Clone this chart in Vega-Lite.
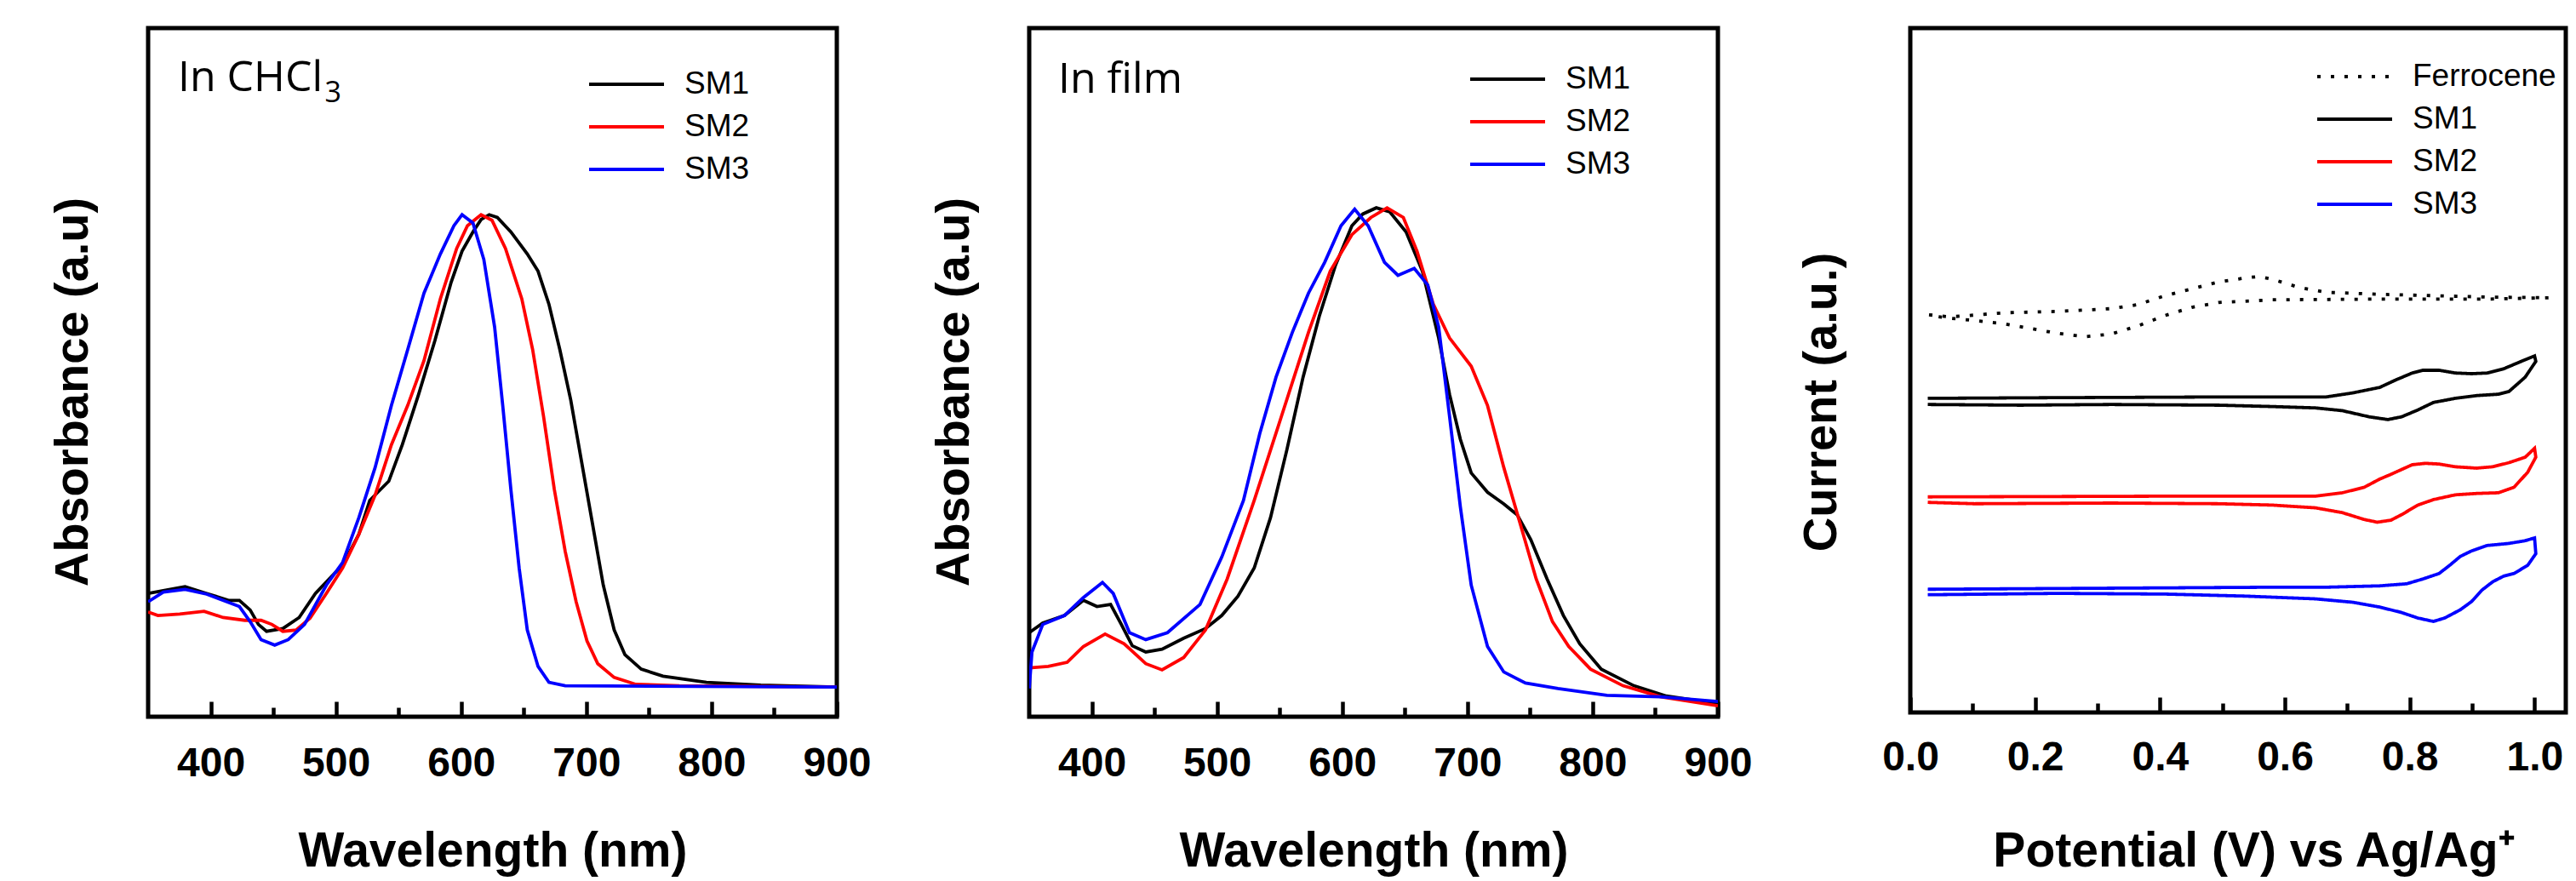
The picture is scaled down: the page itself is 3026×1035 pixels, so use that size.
{
  "$schema": "https://vega.github.io/schema/vega-lite/v6.json",
  "background": "white",
  "padding": {"left": 54, "top": 30, "right": 5, "bottom": 5},
  "bounds": "flush",
  "spacing": 226,
  "resolve": {"scale": {"color": "independent", "strokeDash": "independent", "x": "independent", "y": "independent"}, "legend": {"color": "independent", "strokeDash": "independent"}},
  "config": {
    "font": "Liberation Sans",
    "view": {"stroke": "black", "strokeWidth": 5},
    "axisX": {"domain": false, "grid": false, "tickSize": 0, "tickWidth": 4.5, "tickColor": "black", "labelFont": "Liberation Sans", "labelFontSize": 48, "labelFontWeight": "bold", "labelColor": "black", "labelPadding": 31, "labelFlush": false, "labelOverlap": false, "titleFont": "Liberation Sans", "titleFontSize": 57, "titleFontWeight": "bold", "titleColor": "black", "titlePadding": 51},
    "axisY": {"domain": false, "grid": false, "ticks": false, "labels": false, "titleFont": "Liberation Sans", "titleFontSize": 56, "titleFontWeight": "bold", "titleColor": "black", "titlePadding": 60},
    "legend": {"orient": "none", "padding": 0, "offset": 0, "labelFont": "Liberation Sans", "labelFontSize": 37, "labelColor": "black", "labelLimit": 400, "symbolType": "stroke", "symbolSize": 7744, "symbolStrokeWidth": 4, "clipHeight": 50, "rowPadding": 0, "labelOffset": 22}
  },
  "datasets": {
    "uv1": [
      {"s":"SM1","x":350,"y":0.179},{"s":"SM1","x":362.1,"y":0.183},{"s":"SM1","x":379.5,"y":0.189},{"s":"SM1","x":396.8,"y":0.179},{"s":"SM1","x":414.2,"y":0.169},{"s":"SM1","x":422.9,"y":0.169},{"s":"SM1","x":431.5,"y":0.155},{"s":"SM1","x":438.1,"y":0.134},{"s":"SM1","x":444.6,"y":0.124},{"s":"SM1","x":457.6,"y":0.128},{"s":"SM1","x":470.6,"y":0.144},{"s":"SM1","x":483.6,"y":0.179},{"s":"SM1","x":496.6,"y":0.204},{"s":"SM1","x":505.3,"y":0.220},{"s":"SM1","x":518.3,"y":0.265},{"s":"SM1","x":527.0,"y":0.314},{"s":"SM1","x":535.6,"y":0.330},{"s":"SM1","x":542.2,"y":0.342},{"s":"SM1","x":553.0,"y":0.395},{"s":"SM1","x":566.0,"y":0.468},{"s":"SM1","x":579.0,"y":0.546},{"s":"SM1","x":592.0,"y":0.631},{"s":"SM1","x":600.7,"y":0.676},{"s":"SM1","x":609.4,"y":0.704},{"s":"SM1","x":615.9,"y":0.722},{"s":"SM1","x":622.4,"y":0.729},{"s":"SM1","x":628.9,"y":0.725},{"s":"SM1","x":639.7,"y":0.704},{"s":"SM1","x":652.8,"y":0.672},{"s":"SM1","x":661.4,"y":0.647},{"s":"SM1","x":670.1,"y":0.599},{"s":"SM1","x":678.8,"y":0.533},{"s":"SM1","x":687.5,"y":0.460},{"s":"SM1","x":696.1,"y":0.371},{"s":"SM1","x":704.8,"y":0.281},{"s":"SM1","x":713.5,"y":0.191},{"s":"SM1","x":722.2,"y":0.126},{"s":"SM1","x":730.8,"y":0.090},{"s":"SM1","x":743.8,"y":0.069},{"s":"SM1","x":761.2,"y":0.059},{"s":"SM1","x":795.9,"y":0.050},{"s":"SM1","x":839.3,"y":0.046},{"s":"SM1","x":900,"y":0.043},
      {"s":"SM2","x":350,"y":0.152},{"s":"SM2","x":357.8,"y":0.147},{"s":"SM2","x":375.2,"y":0.149},{"s":"SM2","x":394.7,"y":0.153},{"s":"SM2","x":409.9,"y":0.144},{"s":"SM2","x":427.2,"y":0.140},{"s":"SM2","x":440.2,"y":0.140},{"s":"SM2","x":448.9,"y":0.134},{"s":"SM2","x":457.6,"y":0.124},{"s":"SM2","x":468.4,"y":0.126},{"s":"SM2","x":479.3,"y":0.143},{"s":"SM2","x":492.3,"y":0.179},{"s":"SM2","x":505.3,"y":0.216},{"s":"SM2","x":518.3,"y":0.265},{"s":"SM2","x":531.3,"y":0.322},{"s":"SM2","x":544.3,"y":0.395},{"s":"SM2","x":557.3,"y":0.452},{"s":"SM2","x":570.3,"y":0.517},{"s":"SM2","x":583.4,"y":0.607},{"s":"SM2","x":596.4,"y":0.680},{"s":"SM2","x":605.0,"y":0.713},{"s":"SM2","x":615.9,"y":0.729},{"s":"SM2","x":624.6,"y":0.721},{"s":"SM2","x":635.4,"y":0.680},{"s":"SM2","x":648.4,"y":0.607},{"s":"SM2","x":657.1,"y":0.533},{"s":"SM2","x":665.8,"y":0.436},{"s":"SM2","x":674.4,"y":0.330},{"s":"SM2","x":683.1,"y":0.240},{"s":"SM2","x":691.8,"y":0.167},{"s":"SM2","x":700.5,"y":0.110},{"s":"SM2","x":709.1,"y":0.077},{"s":"SM2","x":722.2,"y":0.057},{"s":"SM2","x":739.5,"y":0.047},{"s":"SM2","x":774.2,"y":0.045},{"s":"SM2","x":900,"y":0.043},
      {"s":"SM3","x":350,"y":0.167},{"s":"SM3","x":362.1,"y":0.181},{"s":"SM3","x":379.5,"y":0.185},{"s":"SM3","x":396.8,"y":0.178},{"s":"SM3","x":422.9,"y":0.160},{"s":"SM3","x":431.5,"y":0.138},{"s":"SM3","x":440.2,"y":0.112},{"s":"SM3","x":451.1,"y":0.104},{"s":"SM3","x":461.9,"y":0.112},{"s":"SM3","x":474.9,"y":0.134},{"s":"SM3","x":492.3,"y":0.191},{"s":"SM3","x":505.3,"y":0.224},{"s":"SM3","x":518.3,"y":0.289},{"s":"SM3","x":531.3,"y":0.362},{"s":"SM3","x":544.3,"y":0.452},{"s":"SM3","x":557.3,"y":0.533},{"s":"SM3","x":570.3,"y":0.615},{"s":"SM3","x":583.4,"y":0.672},{"s":"SM3","x":594.2,"y":0.713},{"s":"SM3","x":600.7,"y":0.729},{"s":"SM3","x":609.4,"y":0.717},{"s":"SM3","x":618.1,"y":0.664},{"s":"SM3","x":626.7,"y":0.566},{"s":"SM3","x":633.2,"y":0.452},{"s":"SM3","x":639.7,"y":0.330},{"s":"SM3","x":646.3,"y":0.216},{"s":"SM3","x":652.8,"y":0.126},{"s":"SM3","x":661.4,"y":0.073},{"s":"SM3","x":670.1,"y":0.050},{"s":"SM3","x":683.1,"y":0.045},{"s":"SM3","x":900,"y":0.043}
    ],
    "uv2": [
      {"s":"SM1","x":350,"y":0.122},{"s":"SM1","x":360.8,"y":0.136},{"s":"SM1","x":378.2,"y":0.147},{"s":"SM1","x":393.3,"y":0.169},{"s":"SM1","x":404.1,"y":0.160},{"s":"SM1","x":415.0,"y":0.163},{"s":"SM1","x":423.6,"y":0.134},{"s":"SM1","x":432.3,"y":0.103},{"s":"SM1","x":443.1,"y":0.094},{"s":"SM1","x":456.1,"y":0.098},{"s":"SM1","x":473.4,"y":0.114},{"s":"SM1","x":490.8,"y":0.128},{"s":"SM1","x":503.8,"y":0.147},{"s":"SM1","x":516.7,"y":0.175},{"s":"SM1","x":529.7,"y":0.216},{"s":"SM1","x":542.7,"y":0.289},{"s":"SM1","x":555.7,"y":0.387},{"s":"SM1","x":568.7,"y":0.493},{"s":"SM1","x":581.7,"y":0.582},{"s":"SM1","x":594.7,"y":0.656},{"s":"SM1","x":607.7,"y":0.713},{"s":"SM1","x":616.4,"y":0.730},{"s":"SM1","x":627.2,"y":0.739},{"s":"SM1","x":638.0,"y":0.733},{"s":"SM1","x":651.0,"y":0.704},{"s":"SM1","x":664.0,"y":0.647},{"s":"SM1","x":677.0,"y":0.550},{"s":"SM1","x":685.7,"y":0.468},{"s":"SM1","x":694.3,"y":0.403},{"s":"SM1","x":703.0,"y":0.354},{"s":"SM1","x":716.0,"y":0.326},{"s":"SM1","x":729.0,"y":0.309},{"s":"SM1","x":739.8,"y":0.293},{"s":"SM1","x":750.6,"y":0.257},{"s":"SM1","x":763.6,"y":0.200},{"s":"SM1","x":776.6,"y":0.147},{"s":"SM1","x":789.6,"y":0.106},{"s":"SM1","x":806.9,"y":0.069},{"s":"SM1","x":832.9,"y":0.045},{"s":"SM1","x":858.9,"y":0.030},{"s":"SM1","x":900,"y":0.019},
      {"s":"SM2","x":350,"y":0.071},{"s":"SM2","x":365.2,"y":0.073},{"s":"SM2","x":380.3,"y":0.079},{"s":"SM2","x":393.3,"y":0.102},{"s":"SM2","x":410.6,"y":0.120},{"s":"SM2","x":425.8,"y":0.106},{"s":"SM2","x":443.1,"y":0.077},{"s":"SM2","x":456.1,"y":0.068},{"s":"SM2","x":473.4,"y":0.086},{"s":"SM2","x":490.8,"y":0.126},{"s":"SM2","x":508.1,"y":0.200},{"s":"SM2","x":529.7,"y":0.314},{"s":"SM2","x":551.4,"y":0.436},{"s":"SM2","x":573.0,"y":0.558},{"s":"SM2","x":590.4,"y":0.647},{"s":"SM2","x":607.7,"y":0.700},{"s":"SM2","x":622.9,"y":0.725},{"s":"SM2","x":635.8,"y":0.739},{"s":"SM2","x":648.8,"y":0.725},{"s":"SM2","x":659.7,"y":0.676},{"s":"SM2","x":672.7,"y":0.599},{"s":"SM2","x":685.7,"y":0.550},{"s":"SM2","x":703.0,"y":0.509},{"s":"SM2","x":716.0,"y":0.452},{"s":"SM2","x":729.0,"y":0.362},{"s":"SM2","x":742.0,"y":0.281},{"s":"SM2","x":754.9,"y":0.200},{"s":"SM2","x":767.9,"y":0.138},{"s":"SM2","x":780.9,"y":0.102},{"s":"SM2","x":798.3,"y":0.069},{"s":"SM2","x":824.2,"y":0.045},{"s":"SM2","x":854.5,"y":0.029},{"s":"SM2","x":900,"y":0.016},
      {"s":"SM3","x":350,"y":0.041},{"s":"SM3","x":352.2,"y":0.094},{"s":"SM3","x":360.8,"y":0.134},{"s":"SM3","x":378.2,"y":0.147},{"s":"SM3","x":393.3,"y":0.173},{"s":"SM3","x":408.5,"y":0.195},{"s":"SM3","x":417.1,"y":0.179},{"s":"SM3","x":430.1,"y":0.122},{"s":"SM3","x":443.1,"y":0.112},{"s":"SM3","x":460.4,"y":0.122},{"s":"SM3","x":486.4,"y":0.163},{"s":"SM3","x":503.8,"y":0.232},{"s":"SM3","x":521.1,"y":0.314},{"s":"SM3","x":534.1,"y":0.411},{"s":"SM3","x":547.1,"y":0.493},{"s":"SM3","x":560.1,"y":0.558},{"s":"SM3","x":573.0,"y":0.615},{"s":"SM3","x":586.0,"y":0.660},{"s":"SM3","x":599.0,"y":0.713},{"s":"SM3","x":609.9,"y":0.737},{"s":"SM3","x":620.7,"y":0.713},{"s":"SM3","x":633.7,"y":0.660},{"s":"SM3","x":644.5,"y":0.641},{"s":"SM3","x":657.5,"y":0.651},{"s":"SM3","x":668.3,"y":0.627},{"s":"SM3","x":677.0,"y":0.566},{"s":"SM3","x":685.7,"y":0.436},{"s":"SM3","x":694.3,"y":0.305},{"s":"SM3","x":703.0,"y":0.191},{"s":"SM3","x":716.0,"y":0.102},{"s":"SM3","x":729.0,"y":0.065},{"s":"SM3","x":746.3,"y":0.049},{"s":"SM3","x":772.3,"y":0.041},{"s":"SM3","x":811.3,"y":0.031},{"s":"SM3","x":854.5,"y":0.029},{"s":"SM3","x":900,"y":0.022}
    ],
    "cv": [
      {"s":"Ferrocene","i":1,"x":0.030,"y":0.581},{"s":"Ferrocene","i":2,"x":0.064,"y":0.578},{"s":"Ferrocene","i":3,"x":0.150,"y":0.584},{"s":"Ferrocene","i":4,"x":0.236,"y":0.586},{"s":"Ferrocene","i":5,"x":0.322,"y":0.590},{"s":"Ferrocene","i":6,"x":0.365,"y":0.596},{"s":"Ferrocene","i":7,"x":0.408,"y":0.609},{"s":"Ferrocene","i":8,"x":0.451,"y":0.619},{"s":"Ferrocene","i":9,"x":0.494,"y":0.629},{"s":"Ferrocene","i":10,"x":0.537,"y":0.635},{"s":"Ferrocene","i":11,"x":0.559,"y":0.637},{"s":"Ferrocene","i":12,"x":0.580,"y":0.633},{"s":"Ferrocene","i":13,"x":0.623,"y":0.621},{"s":"Ferrocene","i":14,"x":0.666,"y":0.614},{"s":"Ferrocene","i":15,"x":0.752,"y":0.611},{"s":"Ferrocene","i":16,"x":0.838,"y":0.609},{"s":"Ferrocene","i":17,"x":0.924,"y":0.607},{"s":"Ferrocene","i":18,"x":1.023,"y":0.606},{"s":"Ferrocene","i":19,"x":0.924,"y":0.604},{"s":"Ferrocene","i":20,"x":0.752,"y":0.604},{"s":"Ferrocene","i":21,"x":0.580,"y":0.603},{"s":"Ferrocene","i":22,"x":0.494,"y":0.599},{"s":"Ferrocene","i":23,"x":0.451,"y":0.592},{"s":"Ferrocene","i":24,"x":0.408,"y":0.580},{"s":"Ferrocene","i":25,"x":0.365,"y":0.565},{"s":"Ferrocene","i":26,"x":0.322,"y":0.553},{"s":"Ferrocene","i":27,"x":0.279,"y":0.549},{"s":"Ferrocene","i":28,"x":0.236,"y":0.554},{"s":"Ferrocene","i":29,"x":0.150,"y":0.568},{"s":"Ferrocene","i":30,"x":0.099,"y":0.573},{"s":"Ferrocene","i":31,"x":0.064,"y":0.576},{"s":"Ferrocene","i":32,"x":0.030,"y":0.580},
      {"s":"SM1","i":1,"x":0.028,"y":0.459},{"s":"SM1","i":2,"x":0.236,"y":0.460},{"s":"SM1","i":3,"x":0.494,"y":0.461},{"s":"SM1","i":4,"x":0.666,"y":0.461},{"s":"SM1","i":5,"x":0.709,"y":0.467},{"s":"SM1","i":6,"x":0.752,"y":0.475},{"s":"SM1","i":7,"x":0.778,"y":0.486},{"s":"SM1","i":8,"x":0.804,"y":0.496},{"s":"SM1","i":9,"x":0.821,"y":0.500},{"s":"SM1","i":10,"x":0.847,"y":0.500},{"s":"SM1","i":11,"x":0.873,"y":0.496},{"s":"SM1","i":12,"x":0.899,"y":0.495},{"s":"SM1","i":13,"x":0.924,"y":0.496},{"s":"SM1","i":14,"x":0.950,"y":0.502},{"s":"SM1","i":15,"x":0.976,"y":0.512},{"s":"SM1","i":16,"x":1.000,"y":0.521},{"s":"SM1","i":17,"x":1.002,"y":0.513},{"s":"SM1","i":18,"x":0.985,"y":0.490},{"s":"SM1","i":19,"x":0.959,"y":0.469},{"s":"SM1","i":20,"x":0.942,"y":0.465},{"s":"SM1","i":21,"x":0.907,"y":0.463},{"s":"SM1","i":22,"x":0.873,"y":0.459},{"s":"SM1","i":23,"x":0.838,"y":0.453},{"s":"SM1","i":24,"x":0.813,"y":0.442},{"s":"SM1","i":25,"x":0.787,"y":0.432},{"s":"SM1","i":26,"x":0.765,"y":0.428},{"s":"SM1","i":27,"x":0.735,"y":0.432},{"s":"SM1","i":28,"x":0.692,"y":0.441},{"s":"SM1","i":29,"x":0.649,"y":0.445},{"s":"SM1","i":30,"x":0.580,"y":0.447},{"s":"SM1","i":31,"x":0.494,"y":0.449},{"s":"SM1","i":32,"x":0.322,"y":0.450},{"s":"SM1","i":33,"x":0.176,"y":0.449},{"s":"SM1","i":34,"x":0.028,"y":0.450},
      {"s":"SM2","i":1,"x":0.028,"y":0.315},{"s":"SM2","i":2,"x":0.400,"y":0.316},{"s":"SM2","i":3,"x":0.649,"y":0.316},{"s":"SM2","i":4,"x":0.692,"y":0.321},{"s":"SM2","i":5,"x":0.727,"y":0.329},{"s":"SM2","i":6,"x":0.752,"y":0.341},{"s":"SM2","i":7,"x":0.770,"y":0.348},{"s":"SM2","i":8,"x":0.787,"y":0.355},{"s":"SM2","i":9,"x":0.804,"y":0.362},{"s":"SM2","i":10,"x":0.825,"y":0.364},{"s":"SM2","i":11,"x":0.847,"y":0.363},{"s":"SM2","i":12,"x":0.873,"y":0.359},{"s":"SM2","i":13,"x":0.907,"y":0.357},{"s":"SM2","i":14,"x":0.933,"y":0.359},{"s":"SM2","i":15,"x":0.959,"y":0.365},{"s":"SM2","i":16,"x":0.985,"y":0.373},{"s":"SM2","i":17,"x":1.000,"y":0.386},{"s":"SM2","i":18,"x":1.002,"y":0.373},{"s":"SM2","i":19,"x":0.989,"y":0.351},{"s":"SM2","i":20,"x":0.967,"y":0.329},{"s":"SM2","i":21,"x":0.942,"y":0.321},{"s":"SM2","i":22,"x":0.907,"y":0.320},{"s":"SM2","i":23,"x":0.873,"y":0.318},{"s":"SM2","i":24,"x":0.838,"y":0.311},{"s":"SM2","i":25,"x":0.813,"y":0.303},{"s":"SM2","i":26,"x":0.787,"y":0.289},{"s":"SM2","i":27,"x":0.770,"y":0.281},{"s":"SM2","i":28,"x":0.748,"y":0.278},{"s":"SM2","i":29,"x":0.727,"y":0.282},{"s":"SM2","i":30,"x":0.692,"y":0.292},{"s":"SM2","i":31,"x":0.649,"y":0.299},{"s":"SM2","i":32,"x":0.580,"y":0.303},{"s":"SM2","i":33,"x":0.494,"y":0.305},{"s":"SM2","i":34,"x":0.322,"y":0.306},{"s":"SM2","i":35,"x":0.103,"y":0.305},{"s":"SM2","i":36,"x":0.028,"y":0.307},
      {"s":"SM3","i":1,"x":0.028,"y":0.180},{"s":"SM3","i":2,"x":0.580,"y":0.183},{"s":"SM3","i":3,"x":0.666,"y":0.183},{"s":"SM3","i":4,"x":0.752,"y":0.185},{"s":"SM3","i":5,"x":0.795,"y":0.188},{"s":"SM3","i":6,"x":0.821,"y":0.195},{"s":"SM3","i":7,"x":0.847,"y":0.203},{"s":"SM3","i":8,"x":0.864,"y":0.215},{"s":"SM3","i":9,"x":0.881,"y":0.228},{"s":"SM3","i":10,"x":0.899,"y":0.236},{"s":"SM3","i":11,"x":0.924,"y":0.244},{"s":"SM3","i":12,"x":0.959,"y":0.247},{"s":"SM3","i":13,"x":0.985,"y":0.251},{"s":"SM3","i":14,"x":1.000,"y":0.255},{"s":"SM3","i":15,"x":1.002,"y":0.232},{"s":"SM3","i":16,"x":0.989,"y":0.215},{"s":"SM3","i":17,"x":0.967,"y":0.203},{"s":"SM3","i":18,"x":0.950,"y":0.199},{"s":"SM3","i":19,"x":0.933,"y":0.191},{"s":"SM3","i":20,"x":0.916,"y":0.179},{"s":"SM3","i":21,"x":0.899,"y":0.162},{"s":"SM3","i":22,"x":0.881,"y":0.150},{"s":"SM3","i":23,"x":0.856,"y":0.138},{"s":"SM3","i":24,"x":0.838,"y":0.133},{"s":"SM3","i":25,"x":0.813,"y":0.138},{"s":"SM3","i":26,"x":0.787,"y":0.146},{"s":"SM3","i":27,"x":0.752,"y":0.154},{"s":"SM3","i":28,"x":0.709,"y":0.161},{"s":"SM3","i":29,"x":0.649,"y":0.166},{"s":"SM3","i":30,"x":0.537,"y":0.170},{"s":"SM3","i":31,"x":0.408,"y":0.173},{"s":"SM3","i":32,"x":0.236,"y":0.174},{"s":"SM3","i":33,"x":0.028,"y":0.172}
    ]
  },
  "hconcat": [
    {
      "width": 809, "height": 809,
      "layer": [
        {
          "data": {"name": "uv1"},
          "mark": {"type": "line", "strokeWidth": 3.8, "clip": true},
          "encoding": {
            "x": {"field": "x", "type": "quantitative", "scale": {"domain": [350, 900], "nice": false, "zero": false},
              "axis": {"title": "Wavelength (nm)", "values": [400,450,500,550,600,650,700,750,800,850,900], "labelExpr": "datum.value % 100 == 0 ? datum.label : ''",
                "encoding": {"ticks": {"y2": {"condition": {"test": "datum.value % 100 == 0", "value": -18}, "value": -11}}}}},
            "y": {"field": "y", "type": "quantitative", "scale": {"domain": [0, 1], "nice": false, "zero": false}, "axis": {"title": "Absorbance (a.u)", "titleY": 427}},
            "color": {"field": "s", "type": "nominal", "scale": {"domain": ["SM1", "SM2", "SM3"], "range": ["#000000", "#ff0000", "#0000ff"]}, "legend": {"title": null, "legendX": 516, "legendY": 41}}
          }
        },
        {
          "data": {"values": [{"t": "In CHCl"}]},
          "mark": {"type": "text", "font": "Open Sans", "fontSize": 50, "align": "left", "baseline": "alphabetic", "color": "black"},
          "encoding": {"text": {"field": "t"}, "x": {"datum": 373.8}, "y": {"datum": 0.9085}}
        },
        {
          "data": {"values": [{"t": "3"}]},
          "mark": {"type": "text", "font": "Open Sans", "fontSize": 34, "align": "left", "baseline": "alphabetic", "color": "black"},
          "encoding": {"text": {"field": "t"}, "x": {"datum": 491}, "y": {"datum": 0.8925}}
        }
      ]
    },
    {
      "width": 809, "height": 809,
      "layer": [
        {
          "data": {"name": "uv2"},
          "mark": {"type": "line", "strokeWidth": 3.8, "clip": true},
          "encoding": {
            "x": {"field": "x", "type": "quantitative", "scale": {"domain": [350, 900], "nice": false, "zero": false},
              "axis": {"title": "Wavelength (nm)", "values": [400,450,500,550,600,650,700,750,800,850,900], "labelExpr": "datum.value % 100 == 0 ? datum.label : ''",
                "encoding": {"ticks": {"y2": {"condition": {"test": "datum.value % 100 == 0", "value": -18}, "value": -11}}}}},
            "y": {"field": "y", "type": "quantitative", "scale": {"domain": [0, 1], "nice": false, "zero": false}, "axis": {"title": "Absorbance (a.u)", "titleY": 427}},
            "color": {"field": "s", "type": "nominal", "scale": {"domain": ["SM1", "SM2", "SM3"], "range": ["#000000", "#ff0000", "#0000ff"]}, "legend": {"title": null, "legendX": 516, "legendY": 35}}
          }
        },
        {
          "data": {"values": [{"t": "In film"}]},
          "mark": {"type": "text", "font": "Open Sans", "fontSize": 50, "align": "left", "baseline": "alphabetic", "color": "black"},
          "encoding": {"text": {"field": "t"}, "x": {"datum": 373.1}, "y": {"datum": 0.906}}
        }
      ]
    },
    {
      "width": 770, "height": 804,
      "data": {"name": "cv"},
      "mark": {"type": "line", "strokeWidth": 3.8, "clip": true},
      "encoding": {
        "x": {"field": "x", "type": "quantitative", "scale": {"domain": [0, 1.05], "nice": false, "zero": false},
          "axis": {"title": "Potential (V) vs Ag/Ag⁺", "titleX": 403, "labelPadding": 29, "titlePadding": 58, "values": [0,0.1,0.2,0.3,0.4,0.5,0.6,0.7,0.8,0.9,1.0], "labelExpr": "round(datum.value*10) % 2 == 0 ? format(datum.value, '.1f') : ''",
            "encoding": {"ticks": {"y2": {"condition": {"test": "round(datum.value*10) % 2 == 0", "value": -18}, "value": -11}}}}},
        "y": {"field": "y", "type": "quantitative", "scale": {"domain": [0, 1], "nice": false, "zero": false}, "axis": {"title": "Current (a.u.)", "titleY": 439, "titlePadding": 76}},
        "order": {"field": "i", "type": "quantitative"},
        "color": {"field": "s", "type": "nominal", "scale": {"domain": ["Ferrocene", "SM1", "SM2", "SM3"], "range": ["#000000", "#000000", "#ff0000", "#0000ff"]}, "legend": {"title": null, "legendX": 476, "legendY": 32}},
        "strokeDash": {"field": "s", "type": "nominal", "scale": {"domain": ["Ferrocene", "SM1", "SM2", "SM3"], "range": [[4, 12], [1, 0], [1, 0], [1, 0]]}, "legend": {"title": null, "legendX": 476, "legendY": 32}}
      }
    }
  ]
}
